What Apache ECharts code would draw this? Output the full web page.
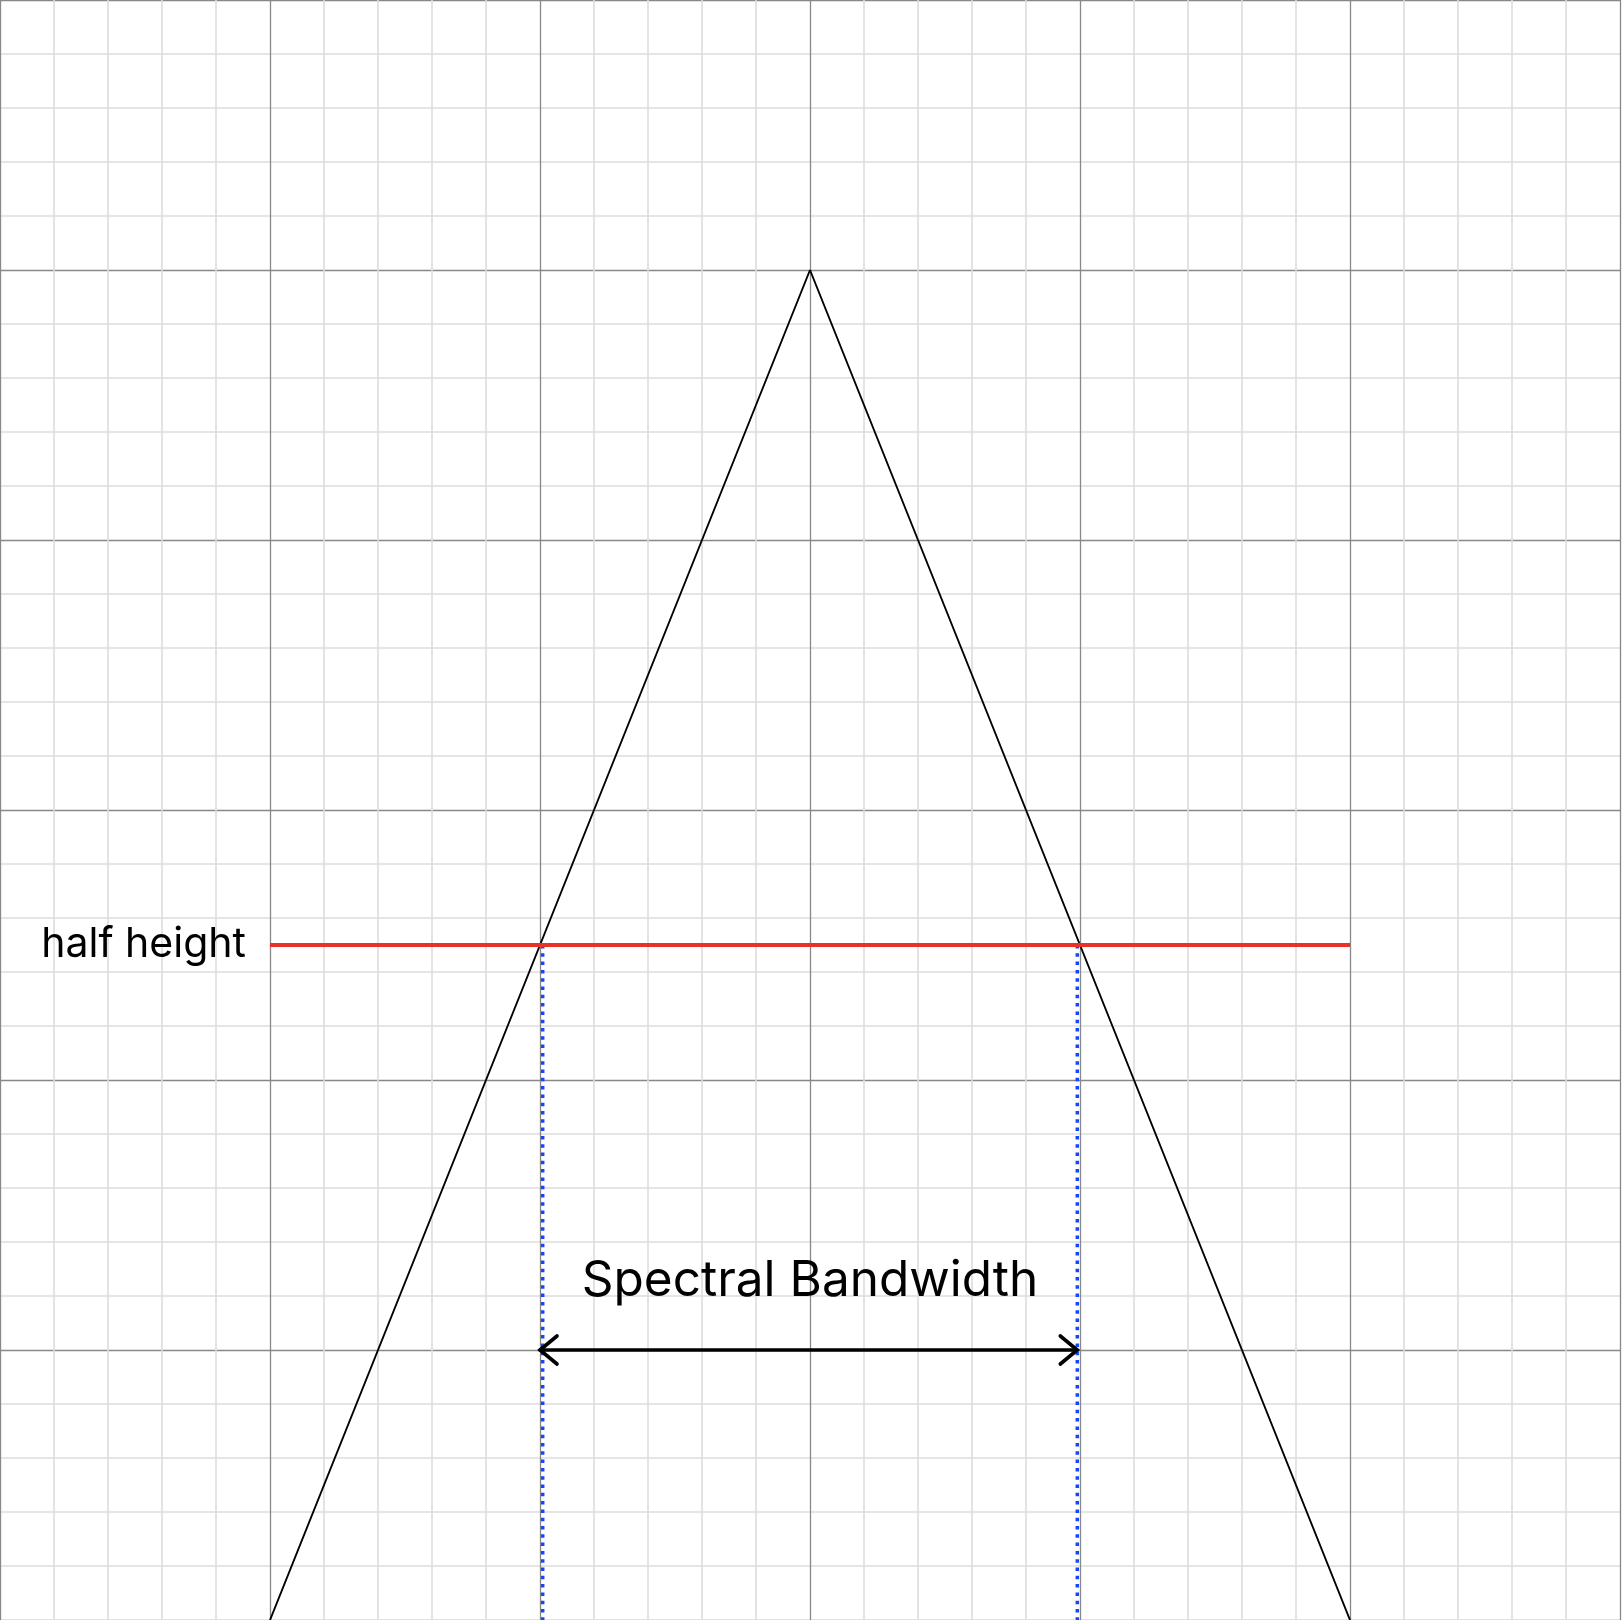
<!DOCTYPE html>
<html><head><meta charset="utf-8">
<script src="https://cdn.jsdelivr.net/npm/echarts@6/dist/echarts.min.js"></script>
<style>html,body{margin:0;padding:0;background:#fff;overflow:hidden}#c{width:1622px;height:1620px}</style>
</head><body><div id="c"></div>
<script>
// ---- data ----
const curveX = [1, 3, 5];
const curveY = [0, 5, 0];
const halfHeightY = 2.5;
const halfLineX = [1, 5];
const bandEdgesX = [2.01, 3.99];
const arrowY = 1;
const arrowX = [2, 3.99];
const halfLabel = 'half height';
const bandLabel = 'Spectral Bandwidth';
const bandLabelAt = [3, 1.255];

const chart = echarts.init(document.getElementById('c'), null, {renderer: 'canvas'});
const axisCommon = {
  type: 'value', min: 0, max: 6, interval: 1,
  axisLabel: {show: false}, axisTick: {show: false}, axisLine: {show: false},
  splitLine: {show: true, lineStyle: {color: '#888', width: 1.3}},
  minorTick: {show: false, splitNumber: 5},
  minorSplitLine: {show: true, lineStyle: {color: '#dcdcdc', width: 1.6}}
};

chart.setOption({
  animation: false,
  backgroundColor: '#fff',
  grid: {left: 0, right: 2, top: 0, bottom: 0, containLabel: false},
  xAxis: Object.assign({}, axisCommon),
  yAxis: Object.assign({}, axisCommon),
  series: [
    {
      type: 'line', data: curveX.map((x, i) => [x, curveY[i]]),
      symbol: 'none', lineStyle: {color: '#000', width: 1.9}, z: 3
    },
    {
      type: 'line', data: halfLineX.map(x => [x, halfHeightY]),
      symbol: 'none', lineStyle: {color: '#ea3127', width: 4}, z: 4
    },
    ...bandEdgesX.map(x => ({
      type: 'line', data: [[x, halfHeightY], [x, 0]],
      symbol: 'none', lineStyle: {color: '#1546ff', width: 3.5, type: [3.5, 4.8], cap: 'butt'}, z: 2
    })),
    {
      type: 'custom', z: 5,
      data: [[arrowX[0], arrowX[1], arrowY]],
      renderItem: function (params, api) {
        const a = api.coord([api.value(0), api.value(2)]);
        const b = api.coord([api.value(1), api.value(2)]);
        const hl = 17, hw = 14;
        const st = {stroke: '#000', lineWidth: 3.6, fill: null, lineCap: 'round', lineJoin: 'miter'};
        return {type: 'group', children: [
          {type: 'line', shape: {x1: a[0], y1: a[1], x2: b[0], y2: b[1]}, style: st},
          {type: 'polyline', shape: {points: [[a[0] + hl, a[1] - hw], [a[0], a[1]], [a[0] + hl, a[1] + hw]]}, style: st},
          {type: 'polyline', shape: {points: [[b[0] - hl, b[1] - hw], [b[0], b[1]], [b[0] - hl, b[1] + hw]]}, style: st}
        ]};
      }
    },
    {
      type: 'custom', z: 6,
      data: [[halfLineX[0], halfHeightY]],
      renderItem: function (params, api) {
        const p = api.coord([api.value(0), api.value(1)]);
        return {type: 'text', style: {text: halfLabel, x: p[0] - 24, y: p[1], align: 'right', verticalAlign: 'middle',
          font: '41px Inter', fill: '#000'}};
      }
    },
    {
      type: 'custom', z: 6,
      data: [bandLabelAt],
      renderItem: function (params, api) {
        const p = api.coord([api.value(0), api.value(1)]);
        return {type: 'text', style: {text: bandLabel, x: p[0], y: p[1], align: 'center', verticalAlign: 'middle',
          font: '49.5px Inter', fill: '#000'}};
      }
    }
  ]
});
</script></body></html>
